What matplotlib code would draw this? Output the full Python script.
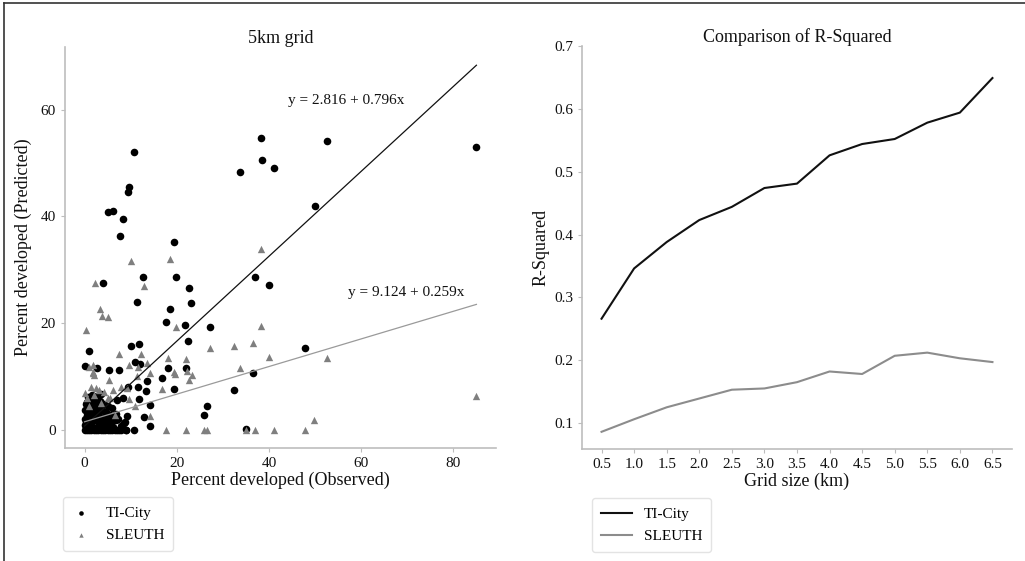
import matplotlib
matplotlib.use("Agg")
import matplotlib.pyplot as plt
from matplotlib.lines import Line2D
import numpy as np

plt.rcParams['font.family'] = ['Liberation Serif', 'DejaVu Serif']

# ---------------- data ----------------
# Left panel: 5km grid scatter (observed %, predicted %)
ti_obs = [85.0, 38.2, 52.5, 38.4, 41.1, 33.7, 49.9, 10.8, 9.6, 9.5, 5.1, 6.1, 8.4, 7.7,
          19.4, 12.7, 19.8, 3.9, 22.6, 36.9, 39.9, 11.4, 23.1, 18.5, 17.6, 21.8, 27.2,
          22.4, 10.0, 11.8, 47.9, 0.9, 0.0, 2.7, 5.3, 7.4, 11.0, 12.1, 18.0, 22.0, 36.6,
          16.7, 13.5, 19.4, 32.4, 11.6, 9.5, 8.4, 7.0, 13.3, 11.8, 14.1, 26.6, 25.8,
          12.9, 14.2, 35.0, 9.2, 10.8, 8.9,
          0.2, 0.5, 1.0, 1.5, 2.0, 2.5, 3.0, 3.5, 4.0, 4.5, 5.0, 5.5, 6.0, 6.5, 7.0, 7.5,
          0.3, 1.2, 2.2, 3.1, 4.0, 5.2, 6.1, 0.4, 1.0, 1.8, 2.6, 3.4, 4.3, 0.6, 1.4, 2.1,
          3.0, 0.2, 0.9, 1.9, 2.8, 3.8, 4.6, 5.5, 0.5, 1.6, 2.5, 3.4, 4.2, 5.0, 6.0, 7.3,
          7.8, 8.5, 6.8, 6.9, 8.8, 0.0, 0.7, 1.3, 2.0, 2.9, 3.7, 4.8, 5.8, 6.6, 0.1, 1.1,
          2.3, 3.2, 4.4, 5.3, 0.8, 1.7, 2.7, 3.6, 0.3, 1.5, 2.4, 3.3, 8.0, 9.0]
ti_pred = [53.0, 54.7, 54.2, 50.5, 49.1, 48.3, 42.0, 52.0, 45.6, 44.5, 40.9, 41.1, 39.6, 36.3,
           35.3, 28.6, 28.6, 27.6, 26.5, 28.6, 27.1, 23.9, 23.8, 22.7, 20.3, 19.6, 19.3,
           16.6, 15.8, 16.1, 15.3, 14.7, 12.0, 11.5, 11.2, 11.2, 12.7, 12.3, 11.6, 11.6, 10.7,
           9.7, 9.1, 7.6, 7.5, 8.1, 8.1, 6.0, 5.6, 7.3, 5.8, 4.7, 4.5, 2.7,
           2.4, 0.7, 0.2, 2.6, 0.0, 0.0,
           0.0, 0.0, 0.0, 0.0, 0.0, 0.0, 0.0, 0.0, 0.0, 0.0, 0.0, 0.0, 0.0, 0.0, 0.0, 0.0,
           0.5, 0.8, 0.4, 1.0, 0.6, 0.9, 0.5, 1.5, 2.0, 1.6, 2.2, 1.8, 2.4, 2.8, 3.2, 3.6,
           3.0, 3.8, 4.2, 4.6, 4.2, 3.8, 3.4, 2.8, 5.2, 5.6, 5.0, 5.4, 4.8, 4.4, 4.0, 2.0,
           0.8, 1.2, 3.0, 1.9, 1.4, 2.0, 1.2, 2.6, 3.0, 2.4, 1.3, 1.6, 1.4, 2.2, 0.9, 3.8,
           4.0, 4.4, 1.0, 0.3, 6.2, 6.6, 6.3, 6.8, 4.8, 4.2, 6.0, 3.6, 0.0, 0.0]

sl_obs = [85.0, 38.2, 10.1, 18.6, 2.2, 12.8, 3.4, 3.7, 5.0, 0.3, 19.9, 38.3, 27.2, 32.4,
          36.6, 7.4, 12.3, 39.9, 52.5, 18.0, 21.9, 9.7, 13.6, 11.5, 0.95, 1.8, 2.1, 14.3,
          19.4, 19.6, 22.2, 23.2, 22.6, 33.7, 5.2, 1.4, 2.4, 3.2, 6.1, 7.8, 9.3, 11.4, 16.7,
          0.6, 5.1, 11.0, 9.7, 14.3, 49.8,
          17.6, 22.0, 25.8, 26.6, 35.0, 37.0, 41.1, 47.9,
          1.8, 1.9, 5.5, 0.0, 1.0, 4.2, 2.0, 3.6, 6.5]
sl_pred = [6.4, 33.9, 31.6, 32.0, 27.6, 27.0, 22.6, 21.3, 21.1, 18.8, 19.2, 19.5, 15.3, 15.8,
           16.3, 14.2, 14.3, 13.6, 13.4, 13.4, 13.2, 12.1, 12.6, 11.8, 11.7, 10.7, 10.2, 10.7,
           10.9, 10.5, 11.1, 10.2, 9.4, 11.6, 9.4, 8.1, 7.8, 7.5, 7.5, 8.1, 7.9, 10.1, 7.6,
           6.0, 6.0, 4.4, 5.7, 2.5, 1.9,
           0.0, 0.0, 0.0, 0.0, 0.0, 0.0, 0.0, 0.0,
           12.1, 10.8, 5.9, 6.9, 4.5, 7.0, 6.5, 5.0, 2.8]

# fitted lines as drawn (intercept, slope) and their printed equations
ti_fit = (0.7, 0.796)
sl_fit = (1.5, 0.259)
fit_x_range = (0.0, 85.0)
ti_eq = "y = 2.816 + 0.796x"
sl_eq = "y = 9.124 + 0.259x"

# Right panel: R-squared vs grid size
grid_size = [0.5, 1.0, 1.5, 2.0, 2.5, 3.0, 3.5, 4.0, 4.5, 5.0, 5.5, 6.0, 6.5]
r2_ticity = [0.266, 0.346, 0.388, 0.423, 0.444, 0.474, 0.481, 0.526, 0.544, 0.552, 0.578, 0.594, 0.649]
r2_sleuth = [0.086, 0.106, 0.125, 0.139, 0.153, 0.155, 0.165, 0.182, 0.178, 0.207, 0.212, 0.203, 0.197]

# ---------------- figure ----------------
fig = plt.figure(figsize=(10.25, 5.61), dpi=100)
ax1 = fig.add_axes([0.0634, 0.2014, 0.4205, 0.7148])
ax2 = fig.add_axes([0.5678, 0.1996, 0.4195, 0.7184])

spine_col = '#bdbdbd'
text_col = '#111111'

for ax in (ax1, ax2):
    for s in ('top', 'right'):
        ax.spines[s].set_visible(False)
    for s in ('left', 'bottom'):
        ax.spines[s].set_color(spine_col)
        ax.spines[s].set_linewidth(1.2)
    ax.tick_params(colors=spine_col, labelcolor=text_col, labelsize=11, length=3)

# left panel
ax1.scatter(ti_obs, ti_pred, s=30, marker='o', color='black', linewidths=0, label='TI-City', zorder=2)
ax1.scatter(sl_obs, sl_pred, s=28, marker='^', color='#7f7f7f', linewidths=0, label='SLEUTH', zorder=3)
fx = np.array(fit_x_range)
ax1.plot(fx, ti_fit[0] + ti_fit[1] * fx, color='#111111', lw=0.9, zorder=4)
ax1.plot(fx, sl_fit[0] + sl_fit[1] * fx, color='#9a9a9a', lw=0.9, zorder=4)
ax1.text(56.8, 61.7, ti_eq, ha='center', va='center', fontsize=11, color=text_col)
ax1.text(69.8, 25.7, sl_eq, ha='center', va='center', fontsize=11, color=text_col)
ax1.set_xticks([0, 20, 40, 60, 80])
ax1.set_yticks([0, 20, 40, 60])
ax1.set_title('5km grid', fontsize=13, color=text_col, pad=3)
ax1.set_xlabel('Percent developed (Observed)', fontsize=13, color=text_col, labelpad=1)
ax1.set_ylabel('Percent developed (Predicted)', fontsize=13, color=text_col, labelpad=6)
leg1 = ax1.legend(loc='upper left', bbox_to_anchor=(-0.005, -0.122), borderaxespad=0,
                  fontsize=11, markerscale=0.6, frameon=True, borderpad=0.6,
                  handlelength=1.2, handletextpad=1.0, labelspacing=0.55)
leg1.get_frame().set_edgecolor('#dddddd')

# right panel
ax2.plot(grid_size, r2_ticity, color='#111111', lw=1.5, label='TI-City')
ax2.plot(grid_size, r2_sleuth, color='#8c8c8c', lw=1.5, label='SLEUTH')
ax2.set_xticks(grid_size)
ax2.set_xticklabels([f'{g:.1f}' for g in grid_size])
ax2.set_yticks([0.1, 0.2, 0.3, 0.4, 0.5, 0.6, 0.7])
ax2.set_ylim(0.0586, 0.70)
ax2.set_xlim(0.2, 6.8)
ax2.set_title('Comparison of R-Squared', fontsize=13, color=text_col, pad=3)
ax2.set_xlabel('Grid size (km)', fontsize=13, color=text_col, labelpad=1)
ax2.set_ylabel('R-Squared', fontsize=13, color=text_col, labelpad=3)
leg2 = ax2.legend(loc='upper left', bbox_to_anchor=(0.023, -0.122), borderaxespad=0,
                  fontsize=11, frameon=True, borderpad=0.6, handlelength=2.0,
                  handletextpad=0.8, labelspacing=0.55)
leg2.get_frame().set_edgecolor('#dddddd')

# figure border (top and left)
fig.add_artist(Line2D([0.004, 1.0], [0.995, 0.995], transform=fig.transFigure, color='#333333', lw=1.2))
fig.add_artist(Line2D([0.004, 0.004], [0.0, 0.995], transform=fig.transFigure, color='#333333', lw=1.2))

fig.savefig('out.png', dpi=100)
